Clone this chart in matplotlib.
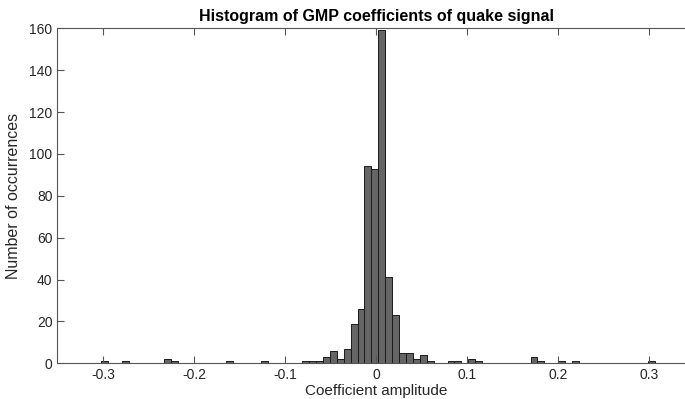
import numpy as np
import matplotlib
matplotlib.use("Agg")
import matplotlib.pyplot as plt

# Histogram bins
bin_left = -0.3016
bin_width = 0.0076
n_bins = 80

# non-zero bins: index -> count
bin_index = [0, 3, 9, 10, 18, 23, 29, 30, 31, 32, 33, 34, 35, 36, 37, 38, 39, 40,
             41, 42, 43, 44, 45, 46, 47, 50, 51, 53, 54, 62, 63, 66, 68, 79]
bin_count = [1, 1, 2, 1, 1, 1, 1, 1, 1, 3, 6, 2, 7, 19, 26, 94, 93, 159,
             41, 23, 5, 5, 2, 4, 1, 1, 1, 2, 1, 3, 1, 1, 1, 1]

x_ticks = [-0.3, -0.2, -0.1, 0, 0.1, 0.2, 0.3]
x_labels = ["-0.3", "-0.2", "-0.1", "0", "0.1", "0.2", "0.3"]
y_ticks = [0, 20, 40, 60, 80, 100, 120, 140, 160]

counts = np.zeros(n_bins)
counts[bin_index] = bin_count
lefts = bin_left + bin_width * np.arange(n_bins)

plt.rcParams["font.family"] = ["Liberation Sans", "DejaVu Sans"]

fig = plt.figure(figsize=(6.85, 3.99), dpi=100)
ax = fig.add_axes([0.0837, 0.0895, 0.9307, 0.8396])

ax.bar(lefts, counts, width=bin_width, align="edge",
       color="#656565", edgecolor="#1a1a1a", linewidth=0.7)

ax.set_xlim(-0.35, 0.35)
ax.set_ylim(0, 160)
ax.set_xticks(x_ticks)
ax.set_xticklabels(x_labels)
ax.set_yticks(y_ticks)

axis_col = "#555555"
for s in ax.spines.values():
    s.set_color(axis_col)
    s.set_linewidth(0.8)
ax.tick_params(direction="in", length=5, width=0.8, color=axis_col,
               labelcolor="#262626", labelsize=10,
               top=True, right=True)

ax.set_xlabel("Coefficient amplitude", fontsize=11, color="#262626", labelpad=1)
ax.set_ylabel("Number of occurrences", fontsize=11.5, color="#262626", labelpad=6)
ax.set_title("Histogram of GMP coefficients of quake signal",
             fontsize=11.5, fontweight="bold", pad=5)

fig.savefig("out.png", dpi=100)
